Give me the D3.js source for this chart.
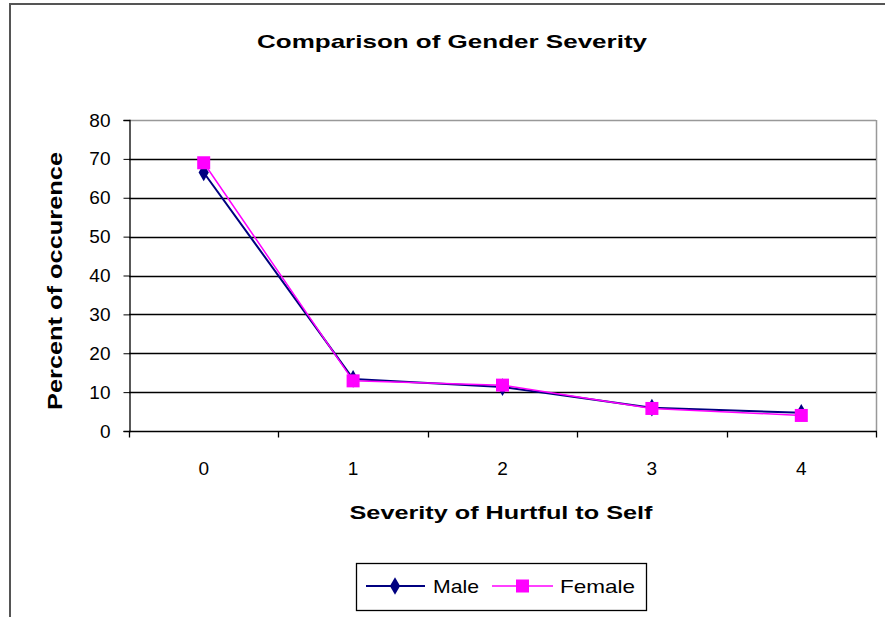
<!DOCTYPE html>
<html><head><meta charset="utf-8">
<script src="https://cdn.jsdelivr.net/npm/d3@7/dist/d3.min.js"></script>
<style>body{margin:0;background:#fff}svg{display:block}text{font-family:"Liberation Sans",Arial,sans-serif}</style>
</head><body><svg id="c" width="885" height="617"></svg>
<script>
const categories = ["0","1","2","3","4"];
const maleValues = [66.5, 13.4, 11.3, 6.0, 4.7];
const femaleValues = [69, 12.9, 11.8, 5.8, 4.0];
const yTicks = [0,10,20,30,40,50,60,70,80];
const seriesNames = ["Male","Female"];

const svg = d3.select("#c");
const W=885,H=617;
// outer chart border
svg.append("line").attr("x1",10).attr("x2",W).attr("y1",4).attr("y2",4).attr("stroke","#555").attr("stroke-width",2);
svg.append("line").attr("x1",10).attr("x2",10).attr("y1",3).attr("y2",H).attr("stroke","#555").attr("stroke-width",2);

const L=129,R=876,T=120,B=431;
const x = d3.scaleBand().domain(categories).range([L,R]);
const y = d3.scaleLinear().domain([0,80]).range([B,T]);

// plot border (gray) top and right
svg.append("line").attr("x1",L).attr("x2",R).attr("y1",T+0.5).attr("y2",T+0.5).attr("stroke","#999").attr("stroke-width",1.5);
svg.append("line").attr("x1",R+0.5).attr("x2",R+0.5).attr("y1",T).attr("y2",B).attr("stroke","#999").attr("stroke-width",1.5);

// gridlines
svg.append("g").selectAll("line").data(yTicks.filter(d=>d>0&&d<80)).join("line")
  .attr("x1",L).attr("x2",R).attr("y1",d=>Math.round(y(d))+0.5).attr("y2",d=>Math.round(y(d))+0.5)
  .attr("stroke","#000").attr("stroke-width",1.3);

// y axis
const yAxis = d3.axisLeft(y).tickValues(yTicks).tickSize(6).tickPadding(13).tickFormat(d3.format("d"));
const gy = svg.append("g").attr("transform",`translate(${L+0.5},0)`).call(yAxis);
gy.select(".domain").attr("stroke","#000").attr("stroke-width",1.3);
gy.selectAll(".tick line").attr("stroke","#000");
gy.selectAll("text").attr("font-size",19).attr("fill","#000").attr("font-family","Liberation Sans, Arial, sans-serif");

// x axis with ticks at band boundaries
const gx = svg.append("g").attr("transform",`translate(0,${B+0.5})`);
gx.append("line").attr("x1",L).attr("x2",R+1).attr("stroke","#000").attr("stroke-width",1.3);
const bounds = categories.map(c=>x(c)+x.bandwidth()).concat([L]);
gx.selectAll(".tk").data(bounds).join("line").attr("class","tk")
  .attr("x1",d=>Math.round(d)+0.5).attr("x2",d=>Math.round(d)+0.5).attr("y1",0).attr("y2",6).attr("stroke","#000").attr("stroke-width",1.3);
gx.selectAll(".lbl").data(categories).join("text").attr("class","lbl")
  .attr("x",d=>x(d)+x.bandwidth()/2).attr("y",43).attr("text-anchor","middle")
  .attr("font-size",19).text(d=>d);

// lines
const cx = (d,i)=>x(categories[i])+x.bandwidth()/2;
const line = d3.line().x((d,i)=>cx(d,i)).y(d=>y(d));
svg.append("path").datum(maleValues).attr("d",line).attr("fill","none").attr("stroke","#000080").attr("stroke-width",2);
svg.append("path").datum(femaleValues).attr("d",line).attr("fill","none").attr("stroke","#ff00ff").attr("stroke-width",1.5);
svg.append("g").selectAll("path").data(maleValues).join("path")
  .attr("d",d3.symbol(d3.symbolDiamond,90))
  .attr("transform",(d,i)=>`translate(${cx(d,i)},${y(d)})`).attr("fill","#000080");
svg.append("g").selectAll("rect").data(femaleValues).join("rect")
  .attr("x",(d,i)=>cx(d,i)-6.5).attr("y",d=>y(d)-6.5).attr("width",13).attr("height",13).attr("fill","#ff00ff");

// titles
svg.append("text").attr("x",452).attr("y",48).attr("text-anchor","middle").attr("font-size",19).attr("font-weight","bold")
  .attr("textLength",390).attr("lengthAdjust","spacingAndGlyphs").text("Comparison of Gender Severity");
svg.append("text").attr("x",501).attr("y",519).attr("text-anchor","middle").attr("font-size",19).attr("font-weight","bold")
  .attr("textLength",303).attr("lengthAdjust","spacingAndGlyphs").text("Severity of Hurtful to Self");
svg.append("text").attr("transform","translate(62,281) rotate(-90)").attr("text-anchor","middle").attr("font-size",20).attr("font-weight","bold")
  .attr("textLength",258).attr("lengthAdjust","spacingAndGlyphs").text("Percent of occurence");

// legend
const lg = svg.append("g");
lg.append("rect").attr("x",356.5).attr("y",563.5).attr("width",290).attr("height",47).attr("fill","#fff").attr("stroke","#000").attr("stroke-width",1.3);
const ly=586;
lg.append("line").attr("x1",366).attr("x2",425).attr("y1",ly).attr("y2",ly).attr("stroke","#000080").attr("stroke-width",2);
lg.append("path").attr("d",d3.symbol(d3.symbolDiamond,90)).attr("transform",`translate(395,${ly})`).attr("fill","#000080");
lg.append("text").attr("x",433).attr("y",ly+7).attr("font-size",19).attr("textLength",46).attr("lengthAdjust","spacingAndGlyphs").text(seriesNames[0]);
lg.append("line").attr("x1",492).attr("x2",553).attr("y1",ly).attr("y2",ly).attr("stroke","#ff00ff").attr("stroke-width",1.5);
lg.append("rect").attr("x",516).attr("y",ly-6.5).attr("width",13).attr("height",13).attr("fill","#ff00ff");
lg.append("text").attr("x",560).attr("y",ly+7).attr("font-size",19).attr("textLength",75).attr("lengthAdjust","spacingAndGlyphs").text(seriesNames[1]);
</script></body></html>
